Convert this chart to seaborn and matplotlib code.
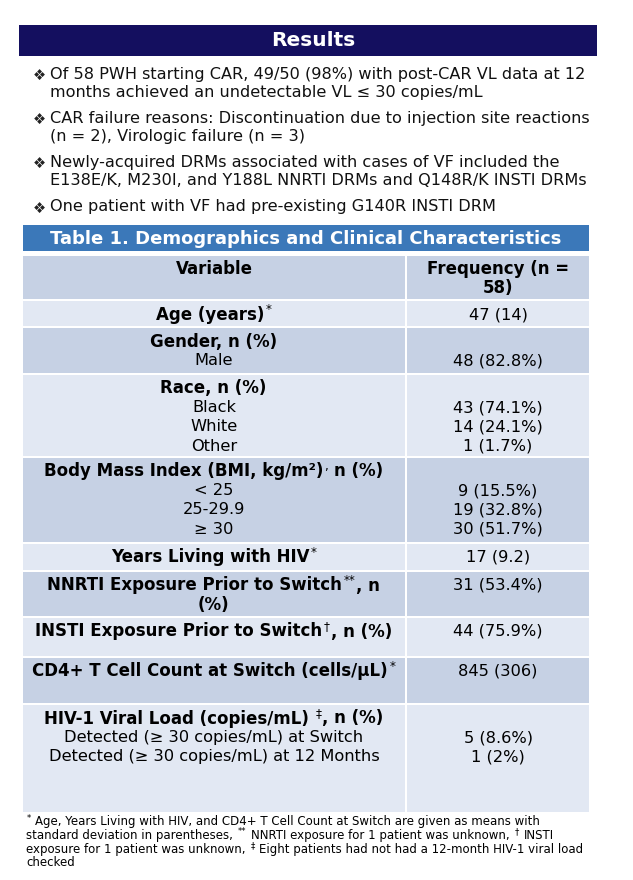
import re
import matplotlib
matplotlib.use("Agg")
import matplotlib.pyplot as plt
from matplotlib.patches import Rectangle
import seaborn as sns

# ---------------- data ----------------
title = "Results"
bullets = [
    ["Of 58 PWH starting CAR, 49/50 (98%) with post-CAR VL data at 12",
     "months achieved an undetectable VL ≤ 30 copies/mL"],
    ["CAR failure reasons: Discontinuation due to injection site reactions",
     "(n = 2), Virologic failure (n = 3)"],
    ["Newly-acquired DRMs associated with cases of VF included the",
     "E138E/K, M230I, and Y188L NNRTI DRMs and Q148R/K INSTI DRMs"],
    ["One patient with VF had pre-existing G140R INSTI DRM"],
]
table_title = "Table 1. Demographics and Clinical Characteristics"
col_headers = [["Variable"], ["Frequency (n =", "58)"]]
# ^{...} marks superscript text
variables = [
    ["Age (years)^{*}"],
    ["Gender, n (%)"],
    ["Race, n (%)"],
    ["Body Mass Index (BMI, kg/m²)^{,} n (%)"],
    ["Years Living with HIV^{*}"],
    ["NNRTI Exposure Prior to Switch^{**}, n", "(%)"],
    ["INSTI Exposure Prior to Switch^{†}, n (%)"],
    ["CD4+ T Cell Count at Switch (cells/µL)^{*}"],
    ["HIV-1 Viral Load (copies/mL) ^{‡}, n (%)"],
]
sublabels = [
    [], ["Male"], ["Black", "White", "Other"], ["< 25", "25-29.9", "≥ 30"],
    [], [], [], [],
    ["Detected (≥ 30 copies/mL) at Switch", "Detected (≥ 30 copies/mL) at 12 Months"],
]
values = [
    ["47 (14)"], ["48 (82.8%)"], ["43 (74.1%)", "14 (24.1%)", "1 (1.7%)"],
    ["9 (15.5%)", "19 (32.8%)", "30 (51.7%)"], ["17 (9.2)"], ["31 (53.4%)"],
    ["44 (75.9%)"], ["845 (306)"], ["5 (8.6%)", "1 (2%)"],
]
footnote = [
    "^{*} Age, Years Living with HIV, and CD4+ T Cell Count at Switch are given as means with",
    "standard deviation in parentheses, ^{**} NNRTI exposure for 1 patient was unknown, ^{†} INSTI",
    "exposure for 1 patient was unknown, ^{‡} Eight patients had not had a 12-month HIV-1 viral load",
    "checked",
]

# ---------------- layout (pixels) ----------------
W, H = 633, 880
row_bounds = [(301, 326), (328, 373), (375, 456), (458, 542), (544, 570),
              (572, 616), (618, 656), (658, 703), (705, 812)]
header_bounds = (256, 299)
left_x0, div_x0, div_x1, right_x1 = 23, 405, 407, 589
line_h = 19.2
first_off = 13.5

NAVY = "#140F5F"
BLUE = "#3B78B9"
DARK = "#C6D1E4"
LIGHT = "#E2E8F3"

sns.set_theme(style="white")
plt.rcParams["font.family"] = ["DejaVu Sans"]

fig = plt.figure(figsize=(W / 100, H / 100), dpi=100)
ax = fig.add_axes([0, 0, 1, 1])
ax.set_xlim(0, W)
ax.set_ylim(H, 0)
ax.axis("off")
renderer = fig.canvas.get_renderer()


def split_rich(s):
    parts = []
    pos = 0
    for m in re.finditer(r"\^\{(.*?)\}", s):
        if m.start() > pos:
            parts.append((s[pos:m.start()], False))
        parts.append((m.group(1), True))
        pos = m.end()
    if pos < len(s):
        parts.append((s[pos:], False))
    return parts


def rich_text(x, y, s, fs, weight="normal", ha="left", color="black"):
    segs = split_rich(s)
    fs_px = fs * 100 / 72
    sp = 0.318 * fs_px
    items = []
    total = 0.0
    for seg, sup in segs:
        lead = len(seg) - len(seg.lstrip(" "))
        trail = len(seg) - len(seg.rstrip(" "))
        core = seg.strip(" ")
        size = fs * 0.72 if sup else fs
        t = ax.text(0, y, core, fontsize=size,
                    fontweight="normal" if sup else weight, ha="left",
                    va="center", color=color)
        w = t.get_window_extent(renderer=renderer).width if core else 0.0
        gap = 1.2 if sup else 0.8
        items.append((t, total + lead * sp + (0.6 if sup else 0), sup))
        total += lead * sp + w + gap + trail * sp
    x0 = x - total / 2 if ha == "center" else x
    for t, off, sup in items:
        t.set_x(x0 + off)
        if sup:
            t.set_y(y - fs_px * 0.3)


REG = 11.7
BOLD = 12.0
# Results banner
ax.add_patch(Rectangle((19, 25), 597 - 19, 31, color=NAVY, lw=0))
ax.text(313, 40.5, title, color="white", fontsize=14.5, fontweight="bold",
        ha="center", va="center")

# bullets
bullet_y = [74, 118, 162, 207]
for y0, lines in zip(bullet_y, bullets):
    ax.text(39, y0 + 1, "❖", fontsize=10.5, ha="center", va="center", color="#222222")
    for i, ln in enumerate(lines):
        ax.text(50, y0 + i * 18.5, ln, fontsize=11.65, ha="left", va="center",
                color="#111111")

# table title bar
ax.add_patch(Rectangle((left_x0, 225), right_x1 - left_x0, 26, color=BLUE, lw=0))
ax.text((left_x0 + right_x1) / 2, 238.5, table_title, color="white", fontsize=13,
        fontweight="bold", ha="center", va="center")

lc = (left_x0 + div_x0) / 2
rc = (div_x1 + right_x1) / 2

# header row
t, b = header_bounds
ax.add_patch(Rectangle((left_x0, t), div_x0 - left_x0, b - t, color=DARK, lw=0))
ax.add_patch(Rectangle((div_x1, t), right_x1 - div_x1, b - t, color=DARK, lw=0))
for cx, lines in zip([lc, rc], col_headers):
    for i, ln in enumerate(lines):
        ax.text(cx, t + 12.5 + i * line_h, ln, fontsize=BOLD, fontweight="bold",
                ha="center", va="center", color="black")

# body rows
for k, ((t, b), var, subs, vals) in enumerate(zip(row_bounds, variables, sublabels, values)):
    col = LIGHT if k % 2 == 0 else DARK
    ax.add_patch(Rectangle((left_x0, t), div_x0 - left_x0, b - t, color=col, lw=0))
    ax.add_patch(Rectangle((div_x1, t), right_x1 - div_x1, b - t, color=col, lw=0))
    y = t + first_off
    for i, ln in enumerate(var):
        rich_text(lc, y + i * line_h, ln, BOLD, weight="bold", ha="center")
    sub_start = y + len(var) * line_h
    for i, ln in enumerate(subs):
        ax.text(lc, sub_start + i * line_h, ln, fontsize=REG,
                ha="center", va="center", color="black")
    vstart = sub_start if subs else y
    for i, ln in enumerate(vals):
        ax.text(rc, vstart + i * line_h, ln, fontsize=REG,
                ha="center", va="center", color="black")

# footnote
for i, ln in enumerate(footnote):
    rich_text(26, 822 + i * 13.5, ln, 8.5, ha="left")

fig.savefig("out.png", dpi=100)
